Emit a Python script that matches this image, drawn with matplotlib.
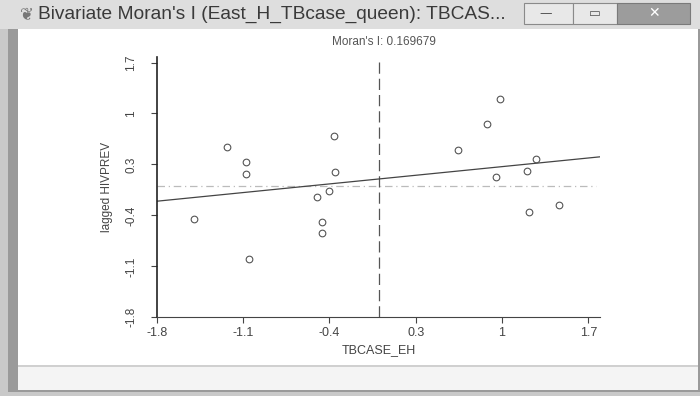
import matplotlib
matplotlib.use("Agg")
import matplotlib.pyplot as plt
from matplotlib.patches import Rectangle
import numpy as np

# TBCASE_EH (standardized) vs spatially lagged HIVPREV
tbcase_eh = [-1.495, -1.232, -1.078, -1.078, -1.049, -0.502, -0.459, -0.459,
             -0.405, -0.362, -0.351, 0.641, 0.876, 0.984, 0.954, 1.206,
             1.274, 1.219, 1.465]
lagged_hivprev = [-0.455, 0.538, 0.332, 0.167, -1.001, -0.145, -0.492, -0.639,
                  -0.066, 0.689, 0.195, 0.505, 0.858, 1.201, 0.134, 0.216,
                  0.381, -0.355, -0.259]

morans_i = 0.169679
intercept = 0.10
ticks = [-1.8, -1.1, -0.4, 0.3, 1, 1.7]
tick_labels = ["-1.8", "-1.1", "-0.4", "0.3", "1", "1.7"]

W, H = 700, 396
fig = plt.figure(figsize=(7, 3.96), dpi=100)
fig.patch.set_facecolor("#c9c9c9")

def box(x0, y0, x1, y1, color, ec="none", lw=0):
    # pixel box (top-left origin) -> figure fraction, drawn under the axes
    fig.patches.append(Rectangle((x0 / W, 1 - y1 / H), (x1 - x0) / W, (y1 - y0) / H,
                                 transform=fig.transFigure, facecolor=color,
                                 edgecolor=ec, lw=lw, zorder=-5))

# window chrome
box(0, 0, 700, 29, "#dedede")
box(8, 29, 700, 392, "#9a9a9a")
box(18, 29, 698, 366, "white")
box(18, 366, 698, 390, "#f4f4f4")
box(18, 365, 698, 367, "#d0d0d0")
box(524, 3, 573, 24, "#e8e8e8", ec="#8a8a8a", lw=0.8)
box(573, 3, 617, 24, "#e8e8e8", ec="#8a8a8a", lw=0.8)
box(617, 3, 690, 24, "#9c9c9c", ec="#7a7a7a", lw=0.8)
fig.text(539 / W, 1 - 14 / H, "—", fontsize=9, color="#555555", ha="left", va="center")
fig.text(595 / W, 1 - 13 / H, "▭", fontsize=9, color="#555555", ha="center", va="center")
fig.text(654 / W, 1 - 13 / H, "✕", fontsize=10, color="white", ha="center", va="center",
         family=["DejaVu Sans"])
fig.text(20 / W, 1 - 14 / H, "❦", fontsize=12, color="#777777", ha="left", va="center")
fig.text(38 / W, 1 - 14 / H, "Bivariate Moran's I (East_H_TBcase_queen): TBCAS...",
         fontsize=13.8, color="#3a3a3a", ha="left", va="center", family="Liberation Sans")

ax = fig.add_axes([156.7 / W, 1 - 317.3 / H, (600 - 156.7) / W, (317.3 - 56.7) / H])
ax.set_facecolor("white")
ax.set_xlim(-1.8, 1.795)
ax.set_ylim(-1.8, 1.78)

ax.axvline(0, color="#555555", lw=0.9, dashes=(9, 4))
ax.plot([-1.8, 1.76], [0, 0], color="#bbbbbb", lw=0.9, dashes=(6, 3, 1, 3))
xs = np.array([-1.8, 1.795])
ax.plot(xs, intercept + morans_i * xs, color="#444444", lw=0.9)
ax.plot(tbcase_eh, lagged_hivprev, ls="none", marker="o", ms=4.8,
        mfc="none", mec="#555555", mew=0.8)

for s in ["top", "right"]:
    ax.spines[s].set_visible(False)
ax.spines["left"].set_color("#222222")
ax.spines["bottom"].set_color("#444444")
ax.spines["left"].set_linewidth(1.2)

ax.set_xticks(ticks)
ax.set_xticklabels(tick_labels, fontsize=9, color="#444444", family="Liberation Sans")
ax.set_yticks(ticks)
ax.set_yticklabels(tick_labels, fontsize=8.5, color="#444444", rotation=90,
                   va="center", family="Liberation Sans")
ax.tick_params(length=4, width=0.8, color="#444444")
ax.tick_params(axis="x", pad=3)
ax.tick_params(axis="y", pad=10)

ax.set_xlabel("TBCASE_EH", fontsize=9, color="#444444", labelpad=4, family="Liberation Sans")
ax.set_ylabel("lagged HIVPREV", fontsize=8.5, color="#444444", labelpad=9,
              family="Liberation Sans")
fig.text(384 / W, 1 - 42 / H, "Moran's I: 0.169679", fontsize=8.5, color="#555555",
         ha="center", va="center", family="Liberation Sans")

fig.savefig("out.png", dpi=100, facecolor=fig.get_facecolor())
